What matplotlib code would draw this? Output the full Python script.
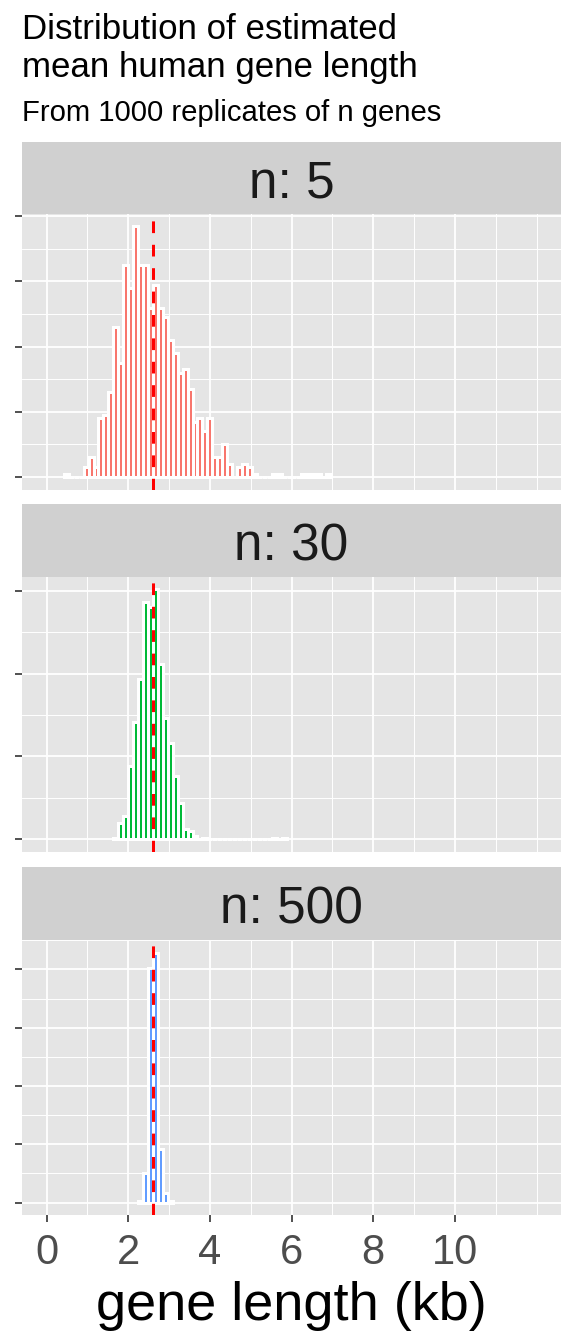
import matplotlib
matplotlib.use('Agg')
import matplotlib.pyplot as plt
from matplotlib.ticker import MultipleLocator

plt.rcParams['font.family'] = ['Liberation Sans', 'DejaVu Sans']

# 100 bins spanning 0-12 kb, bin j centred on j * 12/99
binwidth = 12 / 99
true_mean = 2.61

panel_labels = ['n: 5', 'n: 30', 'n: 500']
fills = ['#F8766D', '#00BA38', '#619CFF']
y_steps = [20, 50, 100]

# counts per bin, starting at the given bin index
n5_first_bin = 4
n5_counts = [1, 0, 0, 0, 3, 6, 3, 18, 19, 26, 46, 35, 65, 58, 77, 65, 65, 52,
             59, 52, 49, 42, 38, 32, 33, 27, 17, 18, 14, 18, 6, 6, 10, 4, 0, 3,
             4, 3, 1, 0, 0, 0, 1, 1, 0, 0, 0, 0, 1, 1, 1, 1, 0, 1]
n30_first_bin = 14
n30_counts = [1, 10, 14, 44, 71, 97, 143, 140, 151, 106, 73, 58, 38, 22, 6, 5,
              2, 0, 1, 0, 0, 0, 0, 0, 0, 0, 0, 0, 0, 0, 0, 0, 1, 0, 1]
n500_first_bin = 19
n500_counts = [3, 50, 403, 429, 91, 16, 2]

first_bins = [n5_first_bin, n30_first_bin, n500_first_bin]
all_counts = [n5_counts, n30_counts, n500_counts]

x_breaks = [0, 2, 4, 6, 8, 10]
x_minor = [1, 3, 5, 7, 9, 11, 12]

W, H = 576, 1344
fig = plt.figure(figsize=(W / 100, H / 100), dpi=100)

# layout in pixels (top, bottom)
left_px, right_px = 22, 561
strips_px = [(141.5, 213.5), (504, 576.7), (867, 940)]
panels_px = [(213.5, 489.5), (576.7, 851.7), (940, 1215)]


def box(top, bottom):
    return [left_px / W, 1 - bottom / H, (right_px - left_px) / W, (bottom - top) / H]


for i in range(3):
    # strip
    sax = fig.add_axes(box(*strips_px[i]))
    sax.set_facecolor('#D0D0D0')
    sax.set_xticks([])
    sax.set_yticks([])
    for s in sax.spines.values():
        s.set_visible(False)
    st, sb = strips_px[i]
    sax.text(0.5, 1 - 56.2 / (sb - st), panel_labels[i],
             transform=sax.transAxes, ha='center', va='baseline',
             fontsize=37, color='#1A1A1A')

    # panel
    ax = fig.add_axes(box(*panels_px[i]))
    ax.set_facecolor('#E5E5E5')
    for s in ax.spines.values():
        s.set_visible(False)
    ax.set_axisbelow(True)

    counts = all_counts[i]
    centers = [(first_bins[i] + k) * binwidth for k in range(len(counts))]
    ax.bar(centers, counts, width=binwidth, color=fills[i],
           edgecolor='white', linewidth=2.16, zorder=2)
    ax.axvline(true_mean, color='red', lw=2.16, linestyle=(0, (3.9, 3.9)), zorder=3)

    top = max(counts)
    ax.set_ylim(-0.05 * top, 1.05 * top)
    ax.set_xlim(-0.6, 12.6)

    step = y_steps[i]
    ax.yaxis.set_major_locator(MultipleLocator(step))
    ax.yaxis.set_minor_locator(MultipleLocator(step / 2))
    ax.set_xticks(x_breaks)
    ax.set_xticks(x_minor, minor=True)

    ax.grid(which='major', color='white', lw=1.3)
    ax.grid(which='minor', color='white', lw=0.7)
    ax.tick_params(which='minor', length=0)
    ax.tick_params(axis='y', length=4.8, width=1.2, color='#333333', labelleft=False)
    if i < 2:
        ax.tick_params(axis='x', which='major', length=0, labelbottom=False)
    else:
        ax.tick_params(axis='x', which='major', length=4.8, width=1.2,
                       color='#333333', labelsize=30, labelcolor='#4D4D4D', pad=8)

fig.text(22 / W, 1 - 39.3 / H, 'Distribution of estimated', fontsize=25.1, va='baseline')
fig.text(22 / W, 1 - 77.3 / H, 'mean human gene length', fontsize=25.1, va='baseline')
fig.text(22 / W, 1 - 120.7 / H, 'From 1000 replicates of n genes', fontsize=21.1, va='baseline')
fig.text(291.5 / W, 1 - 1320 / H, 'gene length (kb)', fontsize=39, ha='center', va='baseline')

fig.savefig('out.png', dpi=100)
